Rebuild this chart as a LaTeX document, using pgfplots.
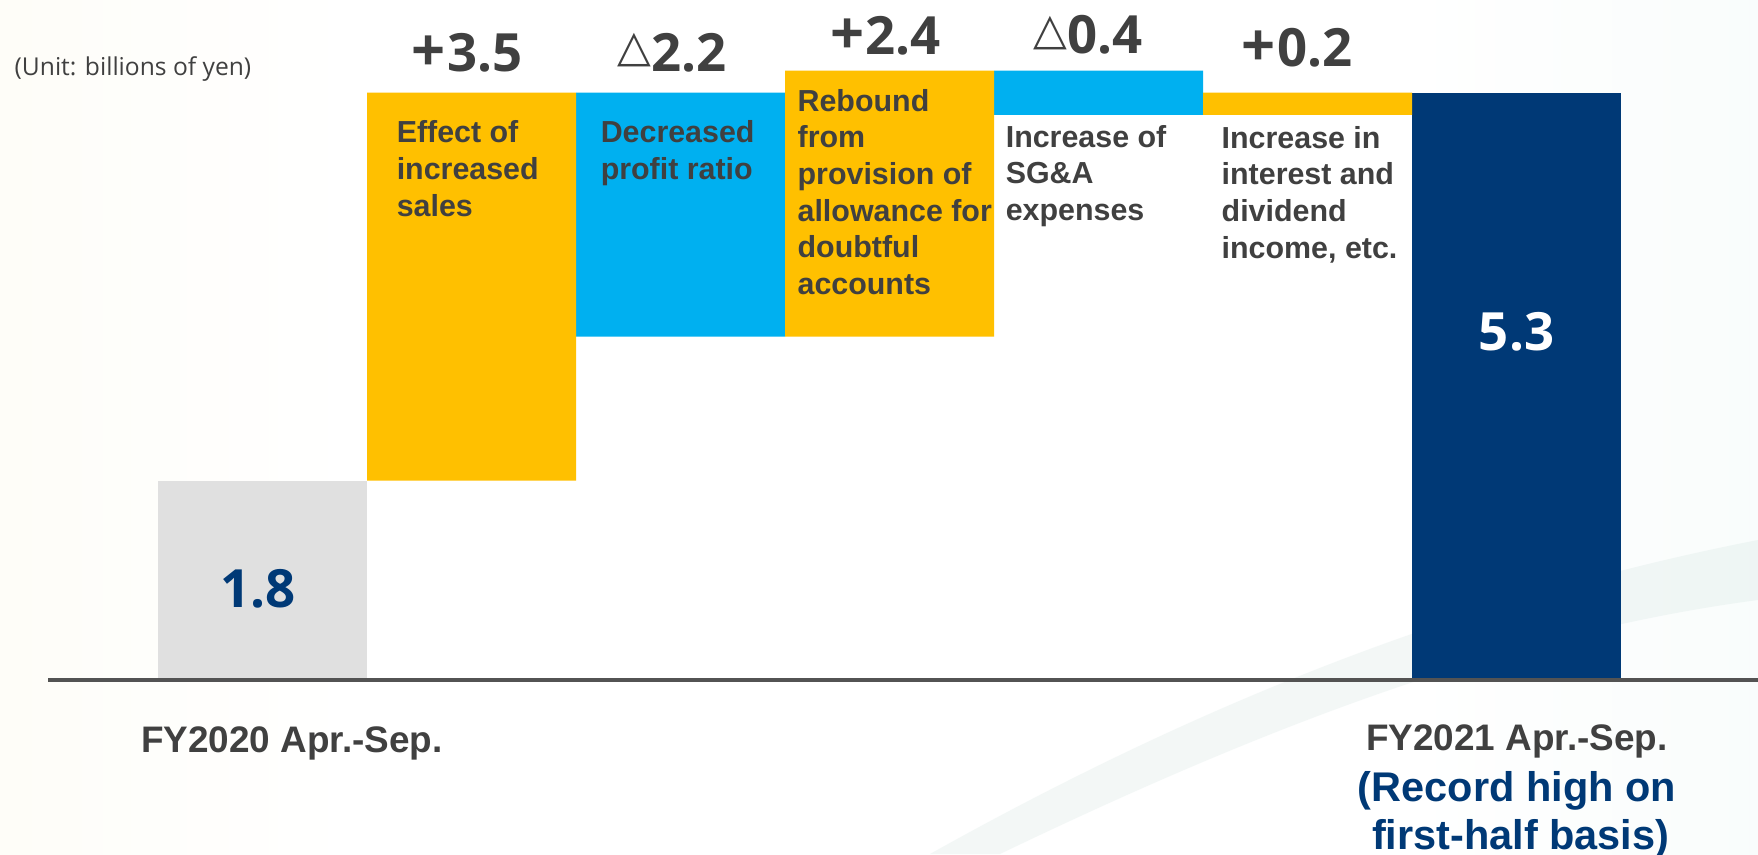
\documentclass[border=0pt]{standalone}
\usepackage{pgfplots}
\pgfplotsset{compat=1.18}
\usepackage{pgfplotstable}
\usepackage{fontspec}
\setmainfont{Liberation Sans}
\newfontfamily\opensans{Open Sans}
\newfontfamily\dejavu{DejaVu Sans}

\definecolor{barorange}{HTML}{FFC000}
\definecolor{barblue}{HTML}{00B0F0}
\definecolor{barnavy}{HTML}{003976}
\definecolor{bargrey}{HTML}{E0E0E0}
\definecolor{txt}{HTML}{404040}
\definecolor{bgcream}{HTML}{FBF7E4}
\definecolor{bgmint}{HTML}{EAF6F3}
\definecolor{swoosh}{HTML}{C9DEDA}

\pgfdeclarehorizontalshading{bgshade}{100bp}{color(0bp)=(bgcream); color(18bp)=(bgcream!45!white);
  color(35bp)=(white); color(65bp)=(white); color(100bp)=(bgmint)}

% waterfall: invisible base + one visible segment per step
\pgfplotstableread{
x base grey orange blue navy
0 0   1.8  0   0   0
1 1.8 0    3.5 0   0
2 3.1 0    0   2.2 0
3 3.1 0    2.4 0   0
4 5.1 0    0   0.4 0
5 5.1 0    0.2 0   0
6 0   0    0   0   5.3
}\waterfall

\tikzset{
  delta/.style={anchor=base, inner sep=0pt, text=txt,
    font={\opensans\bfseries\fontsize{15}{18}\selectfont}},
  desc/.style={anchor=base west, inner sep=0pt, text=txt,
    font={\bfseries\fontsize{8.65}{10.45}\selectfont}},
}
\newcommand\tri{{\dejavu\mdseries\fontsize{12.5}{12}\selectfont\raisebox{2.6pt}{△}}}
\newcommand\plus{{\opensans\bfseries\fontsize{17}{17}\selectfont +}\kern0.5pt}

\begin{document}
\begin{tikzpicture}
\shade[shading=bgshade] (0,0) rectangle (175.8mm,85.4mm);
% faint background swoosh, lower right
\fill[swoosh, opacity=0.22] (175.8mm,31.4mm) .. controls (145mm,25.4mm) and (118mm,14mm) .. (93mm,0mm)
  -- (100mm,0mm) .. controls (125mm,12mm) and (150mm,22mm) .. (175.8mm,25.4mm) -- cycle;
\begin{axis}[
  at={(0,0)}, anchor=south west,
  scale only axis, width=175.8mm, height=85.4mm,
  xmin=-1.2560, xmax=7.1555, ymin=-1.5704, ymax=6.1372,
  axis lines=none, clip=false,
  ybar stacked, bar width=1,
  every axis plot/.append style={draw=none},
]
\addplot[fill=none] table[x=x, y=base]{\waterfall};
\addplot[fill=bargrey] table[x=x, y=grey]{\waterfall};
\addplot[fill=barorange] table[x=x, y=orange]{\waterfall};
\addplot[fill=barblue] table[x=x, y=blue]{\waterfall};
\addplot[fill=barnavy] table[x=x, y=navy]{\waterfall};

% anchor points for the text, placed after the bars
\coordinate (base0) at (axis cs:-1.026,0);
\coordinate (base1) at (axis cs:7.1555,0);
\coordinate (unit) at (axis cs:-1.189,5.46);
\coordinate (d1) at (axis cs:0.978,5.496);
\coordinate (d2) at (axis cs:1.959,5.496);
\coordinate (d3) at (axis cs:2.981,5.641);
\coordinate (d4) at (axis cs:3.950,5.650);
\coordinate (d5) at (axis cs:4.950,5.535);
\coordinate (t1) at (axis cs:0.639,4.847);
\coordinate (t2) at (axis cs:1.615,4.847);
\coordinate (t3) at (axis cs:2.557,5.135);
\coordinate (t4) at (axis cs:3.553,4.810);
\coordinate (t5) at (axis cs:4.586,4.801);
\coordinate (v0) at (axis cs:-0.02,0.650);
\coordinate (v6) at (axis cs:6.0,2.978);
\coordinate (c0) at (axis cs:0.141,-0.650);
\coordinate (c6a) at (axis cs:6.002,-0.632);
\coordinate (c6b) at (axis cs:6.002,-1.101);
\coordinate (c6c) at (axis cs:6.02,-1.534);
\end{axis}

\draw[line width=0.4mm, color=txt!90] (base0) -- (base1);

\node[anchor=base west, inner sep=0pt, text=txt,
  font={\opensans\fontsize{7}{8}\selectfont}] at (unit) {(Unit: billions of yen)};

\node[delta] at (d1) {\plus3.5};
\node[delta] at (d2) {\tri2.2};
\node[delta] at (d3) {\plus2.4};
\node[delta] at (d4) {\tri0.4};
\node[delta] at (d5) {\plus0.2};

\node[desc] at (t1) {\begin{tabular}[t]{@{}l@{}}Effect of\\increased\\sales\end{tabular}};
\node[desc] at (t2) {\begin{tabular}[t]{@{}l@{}}Decreased\\profit ratio\end{tabular}};
\node[desc] at (t3) {\begin{tabular}[t]{@{}l@{}}Rebound\\from\\provision of\\allowance for\\doubtful\\accounts\end{tabular}};
\node[desc] at (t4) {\begin{tabular}[t]{@{}l@{}}Increase of\\SG\&A\\expenses\end{tabular}};
\node[desc] at (t5) {\begin{tabular}[t]{@{}l@{}}Increase in\\interest and\\dividend\\income, etc.\end{tabular}};

\node[anchor=base, inner sep=0pt, text=barnavy,
  font={\opensans\bfseries\fontsize{15}{18}\selectfont}] at (v0) {1.8};
\node[anchor=base, inner sep=0pt, text=white,
  font={\opensans\bfseries\fontsize{15}{18}\selectfont}] at (v6) {5.3};

\node[anchor=base, inner sep=0pt, text=txt,
  font={\bfseries\fontsize{10.5}{12}\selectfont}] at (c0) {FY2020 Apr.-Sep.};
\node[anchor=base, inner sep=0pt, text=txt,
  font={\bfseries\fontsize{10.5}{12}\selectfont}] at (c6a) {FY2021 Apr.-Sep.};
\node[anchor=base, inner sep=0pt, text=barnavy,
  font={\bfseries\fontsize{11.8}{14}\selectfont}] at (c6b) {(Record high on};
\node[anchor=base, inner sep=0pt, text=barnavy,
  font={\bfseries\fontsize{11.8}{14}\selectfont}] at (c6c) {first-half basis)};

\pgfresetboundingbox
\path (0,0) rectangle (175.8mm,85.4mm);
\end{tikzpicture}
\end{document}
